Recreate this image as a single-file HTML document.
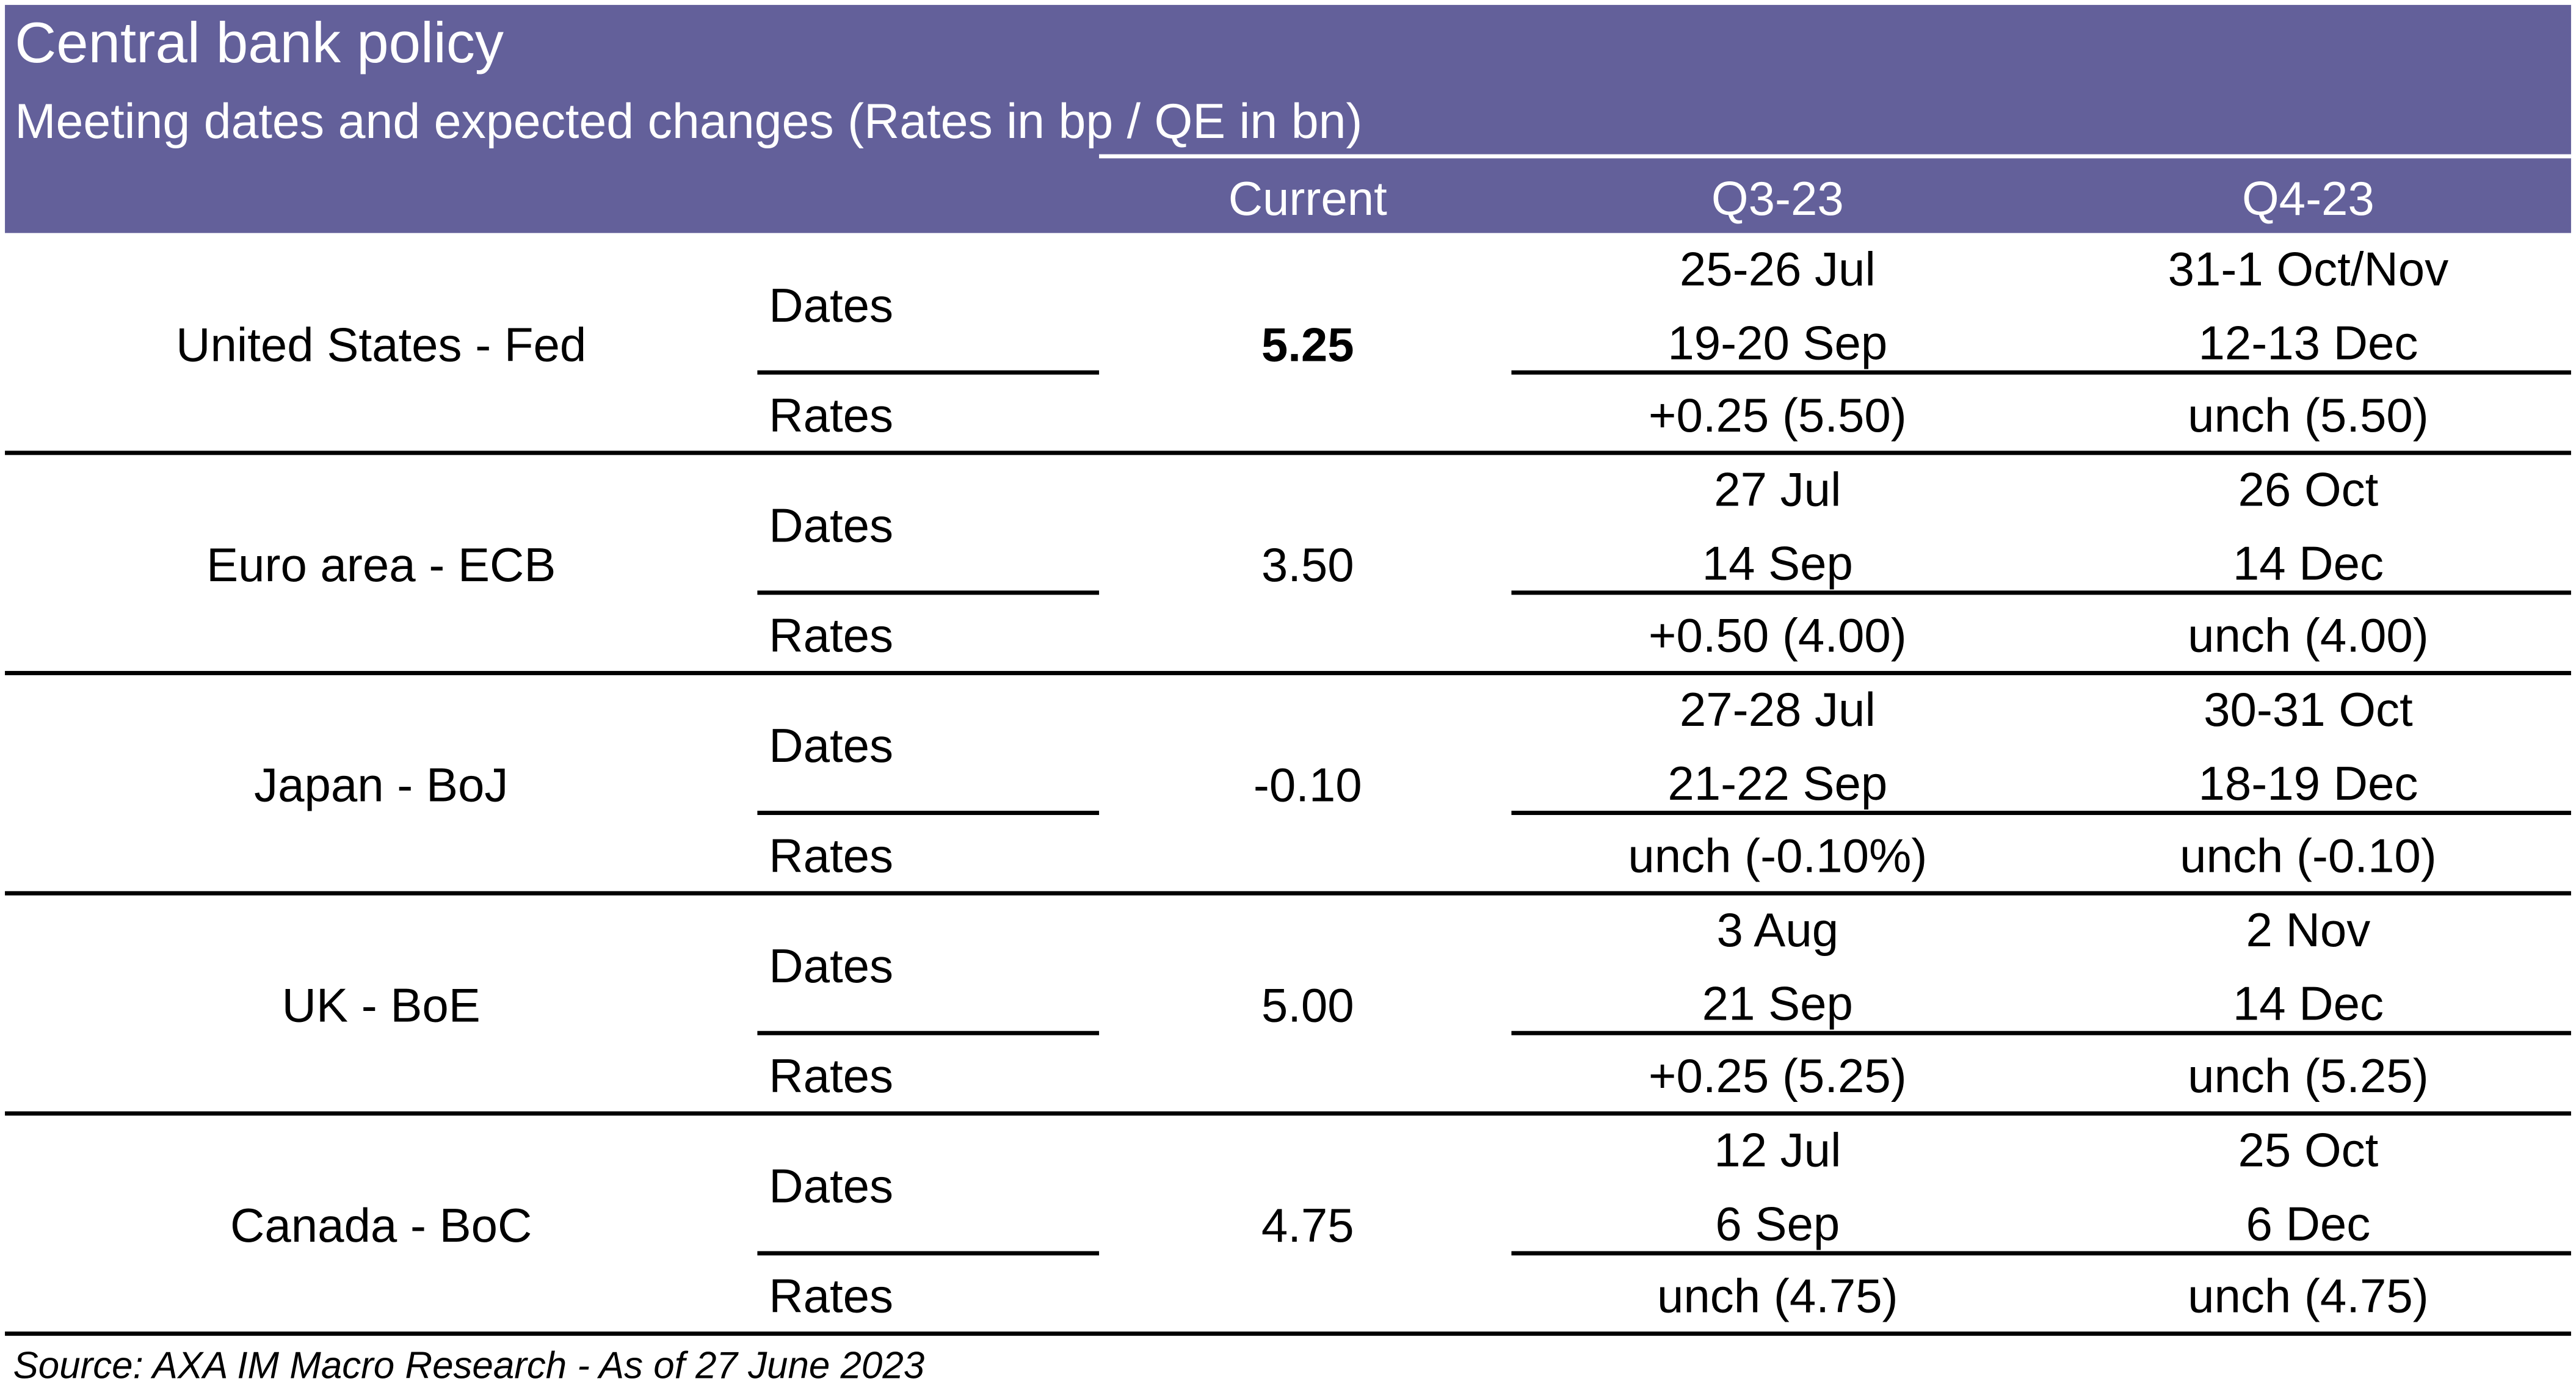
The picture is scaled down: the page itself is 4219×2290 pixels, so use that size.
<!DOCTYPE html>
<html><head><meta charset="utf-8">
<style>
html,body{margin:0;padding:0;background:#fff;}
svg{display:block;}
text{font-family:"Liberation Sans",sans-serif;}
</style></head>
<body>
<svg id="tbl" width="4219" height="2290" viewBox="0 0 1568 852" preserveAspectRatio="none" xmlns="http://www.w3.org/2000/svg">
  <rect x="3" y="3" width="1562" height="139" fill="#63609a"/>
  <rect x="669" y="94" width="896" height="2.5" fill="#fff"/>
  <text x="9" y="38" font-size="35" fill="#fff">Central bank policy</text>
  <text x="9" y="84" font-size="30" fill="#fff">Meeting dates and expected changes (Rates in bp / QE in bn)</text>
  <text x="796" y="131" font-size="29" fill="#fff" text-anchor="middle">Current</text>
  <text x="1082" y="131" font-size="29" fill="#fff" text-anchor="middle">Q3-23</text>
  <text x="1405" y="131" font-size="29" fill="#fff" text-anchor="middle">Q4-23</text>
  <g id="rows"></g>
  <text x="8" y="840" font-size="23" font-style="italic" fill="#000">Source: AXA IM Macro Research - As of 27 June 2023</text>
</svg>
<script>
const banks = ["United States - Fed","Euro area - ECB","Japan - BoJ","UK - BoE","Canada - BoC"];
const current = ["5.25","3.50","-0.10","5.00","4.75"];
const q3Date1 = ["25-26 Jul","27 Jul","27-28 Jul","3 Aug","12 Jul"];
const q3Date2 = ["19-20 Sep","14 Sep","21-22 Sep","21 Sep","6 Sep"];
const q4Date1 = ["31-1 Oct/Nov","26 Oct","30-31 Oct","2 Nov","25 Oct"];
const q4Date2 = ["12-13 Dec","14 Dec","18-19 Dec","14 Dec","6 Dec"];
const q3Rates = ["+0.25 (5.50)","+0.50 (4.00)","unch (-0.10%)","+0.25 (5.25)","unch (4.75)"];
const q4Rates = ["unch (5.50)","unch (4.00)","unch (-0.10)","unch (5.25)","unch (4.75)"];

const NS="http://www.w3.org/2000/svg";
const g=document.getElementById('rows');
const top0=142, rowH=134.2;
function txt(x,y,s,anchor,name,bold){
  const t=document.createElementNS(NS,'text');
  t.setAttribute('x',x);t.setAttribute('y',y);
  t.setAttribute('font-size',29);
  t.setAttribute('text-anchor',anchor);
  if(bold) t.setAttribute('font-weight','bold');
  t.textContent=s;
  
  
  g.appendChild(t);
}
function line(x1,x2,y,w,name){
  const r=document.createElementNS(NS,'rect');
  r.setAttribute('x',x1);r.setAttribute('y',y-w/2);
  r.setAttribute('width',x2-x1);r.setAttribute('height',w);
  r.setAttribute('fill','#000');
  
  
  g.appendChild(r);
}
banks.forEach((b,i)=>{
  const y0=top0+i*rowH;
  txt(232,y0+78,b,'middle','bank-label');
  txt(468,y0+54,'Dates','start','dates-label');
  txt(468,y0+121,'Rates','start','rates-label');
  txt(796,y0+78,current[i],'middle','current-rate',i===0);
  txt(1082,y0+32,q3Date1[i],'middle','q3-date-1');
  txt(1082,y0+77,q3Date2[i],'middle','q3-date-2');
  txt(1405,y0+32,q4Date1[i],'middle','q4-date-1');
  txt(1405,y0+77,q4Date2[i],'middle','q4-date-2');
  txt(1082,y0+121,q3Rates[i],'middle','q3-rate');
  txt(1405,y0+121,q4Rates[i],'middle','q4-rate');
  line(461,669,y0+85,2.6,'dates-rates-divider');
  line(920,1565,y0+85,2.6,'dates-rates-divider');
  line(3,1565,y0+134,2.6,'row-divider');
});
</script>
</body></html>
